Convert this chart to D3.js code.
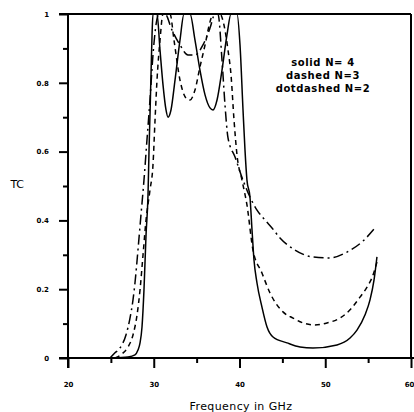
<!DOCTYPE html>
<html>
<head>
<meta charset="utf-8">
<script src="https://cdn.jsdelivr.net/npm/d3@7"></script>
<style>
  html, body { margin: 0; padding: 0; background: #fff; }
  svg { display: block; }
  text { font-family: "DejaVu Sans", Arial, sans-serif; fill: #000; }
</style>
</head>
<body>
<svg id="chart" width="414" height="412"></svg>
<script>
// ---- data (frequency in GHz, TC) ----
const xTicks = [20, 30, 40, 50, 60];
const xMinor = [25, 35, 45, 55];
const yTicks = [0, 0.2, 0.4, 0.6, 0.8, 1];
const yMinor = [0.1, 0.3, 0.5, 0.7, 0.9];
const yTickLabels = ["0", "0.2", "0.4", "0.6", "0.8", "1"];

const solidF = [25.25, 27.0, 27.81, 28.16, 28.40, 28.63, 28.86, 29.10, 29.33, 29.45, 29.56, 29.68, 29.80, 29.91, 30.38, 30.73, 31.08, 31.43, 31.66, 32.01, 32.48, 33.06, 33.53, 34.23, 34.81, 35.39, 35.98, 36.56, 36.91, 37.38, 37.96, 38.54, 39.01, 39.71, 40.06, 40.41, 40.64, 40.87, 41.22, 41.46, 41.69, 42.04, 42.62, 43.21, 43.91, 45.54, 47.06, 48.57, 51.37, 52.89, 53.70, 54.63, 55.22, 55.69, 56.03];
const solidTC = [0, 0.003, 0.009, 0.023, 0.044, 0.090, 0.198, 0.358, 0.474, 0.605, 0.706, 0.823, 0.939, 1.0, 1.0, 0.895, 0.794, 0.721, 0.70, 0.721, 0.808, 0.924, 1.0, 1.0, 0.924, 0.837, 0.765, 0.727, 0.721, 0.75, 0.837, 0.939, 1.0, 1.0, 0.910, 0.721, 0.605, 0.517, 0.468, 0.372, 0.285, 0.218, 0.148, 0.090, 0.061, 0.044, 0.032, 0.029, 0.038, 0.058, 0.081, 0.125, 0.169, 0.227, 0.294];

const dashedF = [25.48, 26.30, 27.0, 27.58, 28.05, 28.40, 28.75, 29.10, 29.56, 29.91, 30.15, 30.38, 30.73, 31.08, 31.90, 32.36, 33.06, 33.76, 34.23, 34.81, 35.39, 35.98, 36.56, 36.91, 37.73, 38.19, 38.66, 39.01, 39.36, 39.71, 40.29, 40.87, 41.57, 42.62, 43.56, 45.07, 46.24, 47.41, 48.80, 50.20, 51.72, 52.89, 54.05, 54.87, 55.57, 56.03];
const dashedTC = [0, 0.012, 0.032, 0.067, 0.125, 0.198, 0.30, 0.401, 0.488, 0.561, 0.692, 0.808, 0.924, 1.0, 1.0, 0.924, 0.808, 0.756, 0.75, 0.779, 0.846, 0.910, 0.977, 1.0, 1.0, 0.968, 0.895, 0.823, 0.692, 0.590, 0.517, 0.445, 0.314, 0.247, 0.189, 0.134, 0.116, 0.102, 0.096, 0.102, 0.116, 0.140, 0.177, 0.206, 0.241, 0.279];

const dotdashF = [24.90, 25.48, 26.06, 26.76, 27.23, 27.58, 27.81, 28.16, 28.51, 28.86, 29.21, 29.56, 29.91, 30.26, 30.61, 31.31, 32.13, 33.06, 33.99, 34.81, 35.74, 36.56, 37.14, 37.49, 37.96, 38.31, 38.66, 39.48, 40.41, 41.22, 42.04, 42.97, 43.79, 44.72, 46.47, 48.45, 50.55, 52.54, 54.40, 55.80];
const dotdashTC = [0, 0.015, 0.029, 0.067, 0.116, 0.169, 0.218, 0.314, 0.416, 0.517, 0.634, 0.75, 0.881, 0.968, 1.0, 1.0, 0.953, 0.910, 0.881, 0.881, 0.910, 0.959, 1.0, 1.0, 0.866, 0.735, 0.640, 0.584, 0.517, 0.468, 0.430, 0.401, 0.378, 0.349, 0.314, 0.294, 0.291, 0.308, 0.340, 0.378];

const legendLines = ["solid N= 4", "dashed N=3", "dotdashed N=2"];
const xTitle = "Frequency in GHz";
const yTitle = "TC";

// ---- layout ----
const svg = d3.select("#chart");
const L = 68, R = 411, T = 14, B = 358;
const x = d3.scaleLinear().domain([20, 60]).range([L, R]);
const y = d3.scaleLinear().domain([0, 1]).range([B, T]);

svg.append("defs").append("clipPath").attr("id", "clip")
  .append("rect").attr("x", L).attr("y", T - 1).attr("width", R - L).attr("height", B - T + 1);

// frame: top and right lines
svg.append("line").attr("x1", 59).attr("x2", R).attr("y1", T).attr("y2", T)
  .attr("stroke", "#000").attr("stroke-width", 2);
svg.append("line").attr("x1", R).attr("x2", R).attr("y1", T).attr("y2", B)
  .attr("stroke", "#000").attr("stroke-width", 2);

function styleAxis(g) {
  g.select(".domain").remove();
  g.selectAll(".tick line").attr("stroke", "#000").attr("stroke-width", 2);
  g.selectAll(".tick text").attr("font-size", 7).attr("font-weight", "bold")
    .attr("font-family", "DejaVu Sans, Arial, sans-serif");
}

// x axis
const gx = svg.append("g").attr("transform", `translate(0,${B})`)
  .call(d3.axisBottom(x).tickValues(xTicks).tickSize(10).tickPadding(14).tickFormat(d3.format("d")));
styleAxis(gx);
// keep the last label inside the picture
gx.selectAll(".tick text").filter(d => d === 60).attr("text-anchor", "end").attr("dx", "3");
const gxm = svg.append("g").attr("transform", `translate(0,${B})`)
  .call(d3.axisBottom(x).tickValues(xMinor).tickSize(5).tickFormat(""));
styleAxis(gxm);

// y axis
const gy = svg.append("g").attr("transform", `translate(${L},0)`)
  .call(d3.axisLeft(y).tickValues(yTicks).tickSize(9).tickPadding(10)
    .tickFormat((d, i) => yTickLabels[i]));
styleAxis(gy);
const gym = svg.append("g").attr("transform", `translate(${L},0)`)
  .call(d3.axisLeft(y).tickValues(yMinor).tickSize(5).tickFormat(""));
styleAxis(gym);

// axis lines
svg.append("line").attr("x1", 59).attr("x2", R + 3).attr("y1", B).attr("y2", B)
  .attr("stroke", "#000").attr("stroke-width", 2);
svg.append("line").attr("x1", L).attr("x2", L).attr("y1", T).attr("y2", B + 10)
  .attr("stroke", "#000").attr("stroke-width", 2);

// curves
const series = [
  { f: solidF, tc: solidTC, dash: null, w: 1.5 },
  { f: dashedF, tc: dashedTC, dash: "5,4", w: 1.5 },
  { f: dotdashF, tc: dotdashTC, dash: "10,4,2,4", w: 1.5 }
];
const line = d3.line().x(d => x(d[0])).y(d => y(d[1])).curve(d3.curveMonotoneX);
const plot = svg.append("g").attr("clip-path", "url(#clip)");
series.forEach(s => {
  plot.append("path")
    .datum(s.f.map((f, i) => [f, s.tc[i]]))
    .attr("d", line)
    .attr("fill", "none")
    .attr("stroke", "#000")
    .attr("stroke-width", s.w)
    .attr("stroke-dasharray", s.dash);
});

// legend text
const lg = svg.append("g");
legendLines.forEach((t, i) => {
  lg.append("text").attr("x", 323).attr("y", 66 + i * 13)
    .attr("text-anchor", "middle").attr("font-size", 10).attr("font-weight", "bold")
    .attr("letter-spacing", 0.6).text(t);
});

// titles
svg.append("text").attr("x", 17).attr("y", 188).attr("text-anchor", "middle")
  .attr("font-size", 11).attr("letter-spacing", -0.5).text(yTitle);
svg.append("text").attr("x", 241).attr("y", 410).attr("text-anchor", "middle")
  .attr("font-size", 11).attr("letter-spacing", 0.4).text(xTitle);
</script>
</body>
</html>
